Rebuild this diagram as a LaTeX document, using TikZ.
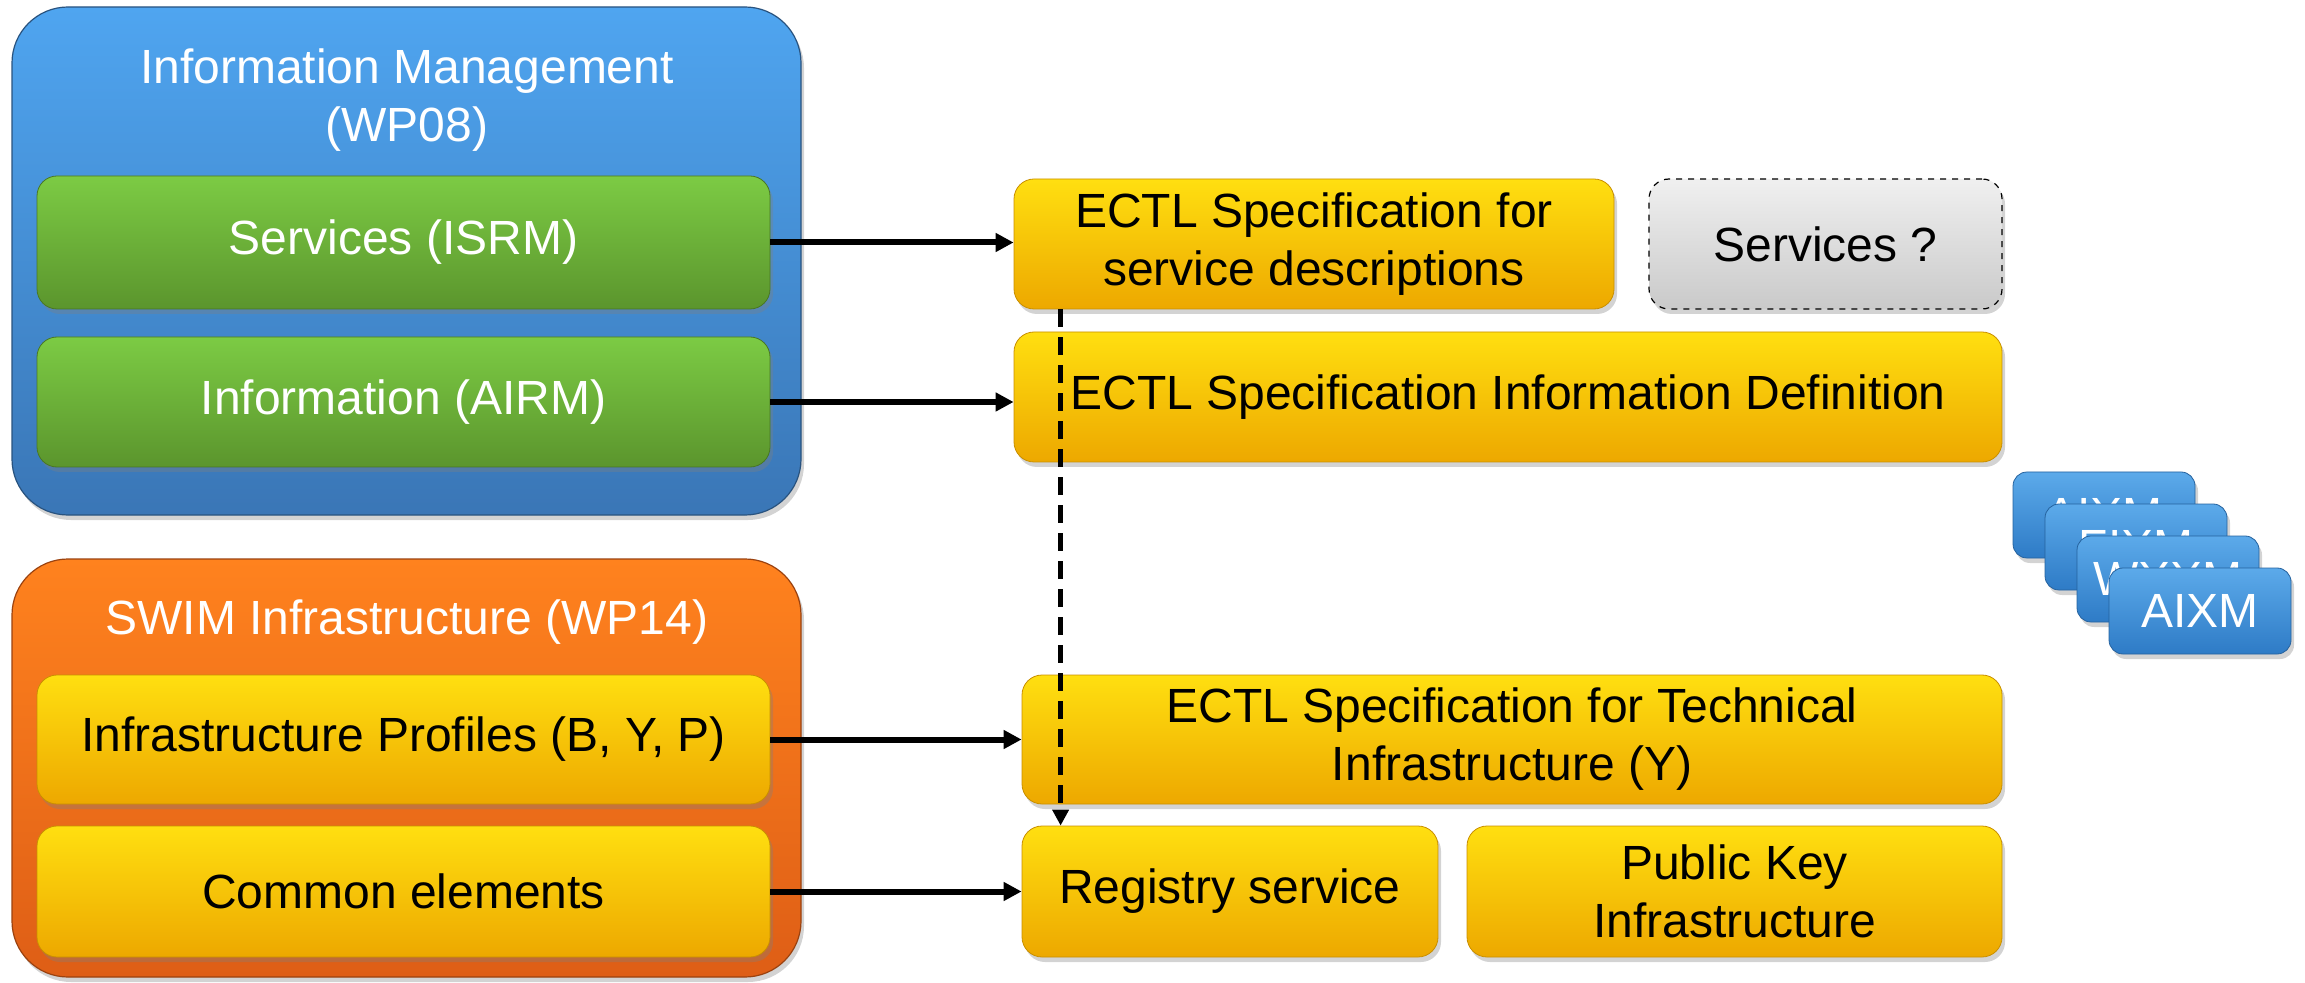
\documentclass[tikz,border=0pt]{standalone}
\usepackage{fontspec}
\setmainfont{Liberation Sans}
\usetikzlibrary{arrows.meta,shadows}

\definecolor{imtop}{HTML}{4FA5F0}
\definecolor{imbot}{HTML}{3A76B6}
\definecolor{swtop}{HTML}{FF821E}
\definecolor{swbot}{HTML}{DE5E16}
\definecolor{grtop}{HTML}{7CCB44}
\definecolor{grbot}{HTML}{5B952D}
\definecolor{yetop}{HTML}{FFDF10}
\definecolor{yebot}{HTML}{EDA800}
\definecolor{xmtop}{HTML}{5CAAEA}
\definecolor{xmbot}{HTML}{2E7BC6}

\begin{document}
\begin{tikzpicture}
[x=0.5pt,y=-0.5pt,
	font=\fontsize{24}{29}\selectfont,
	box/.style={rounded corners=10pt,inner sep=0pt,align=center,
		drop shadow={shadow xshift=1.5pt,shadow yshift=-2.5pt,opacity=0.35}},
	group/.style={box,rounded corners=28pt,draw=#1!70!black,line width=0.6pt},
	greenbox/.style={box,top color=grtop,bottom color=grbot,draw=grbot!80!black,line width=0.4pt,text=white},
	yellowbox/.style={box,top color=yetop,bottom color=yebot,draw=yebot!85!black,line width=0.4pt},
	xmbox/.style={box,rounded corners=7pt,minimum width=91pt,minimum height=43pt,
		top color=xmtop,bottom color=xmbot,draw=xmbot!80!black,line width=0.4pt,text=white},
	link/.style={line width=3pt,-{Triangle[length=9pt,width=9pt]}},
	dashlink/.style={line width=2.6pt,dash pattern=on 9pt off 5pt,-{Triangle[length=8pt,width=8pt]}}]
\useasboundingbox (0,0) rectangle (2305,983);

% left side
\node[group=imbot,top color=imtop,bottom color=imbot,minimum width=394.5pt,minimum height=254pt] (im) at (406.5,261) {};
\node[text=white,align=center] (imtitle) at (407,100) {Information Management\\(WP08)};
\node[greenbox,minimum width=366.5pt,minimum height=66.5pt] (srv) at (403.5,242.5) {Services (ISRM)};
\node[greenbox,minimum width=366.5pt,minimum height=65pt] (inf) at (403.5,402) {Information (AIRM)};

\node[group=swbot,top color=swtop,bottom color=swbot,minimum width=394.5pt,minimum height=209pt] (swim) at (406.5,768) {};
\node[text=white] (swimtitle) at (407,622) {SWIM Infrastructure (WP14)};
\node[yellowbox,minimum width=366.5pt,minimum height=64.5pt] (prof) at (403.5,739.5) {Infrastructure Profiles (B, Y, P)};
\node[yellowbox,minimum width=366.5pt,minimum height=65.5pt] (com) at (403.5,891.5) {Common elements};

% right side
\node[yellowbox,minimum width=300pt,minimum height=65pt] (svc) at (1314,244) {ECTL Specification for\\service descriptions};
\node[box,top color=gray!12,bottom color=gray!42,draw=black,dashed,line width=0.6pt,
	minimum width=176.5pt,minimum height=65pt] (srvq) at (1825.5,244) {Services ?};
\node[yellowbox,minimum width=494pt,minimum height=65pt] (idef) at (1508,397) {ECTL Specification Information Definition};
\node[yellowbox,minimum width=490pt,minimum height=64.5pt] (tech) at (1512,739.5) {ECTL Specification for Technical\\Infrastructure (Y)};
\node[yellowbox,minimum width=208pt,minimum height=65.5pt] (reg) at (1230,891.5) {Registry service};
\node[yellowbox,minimum width=267.5pt,minimum height=65.5pt] (pki) at (1734.5,891.5) {Public Key\\Infrastructure};

% exchange models
\node[xmbox] (xm1) at (2104,515) {AIXM};
\node[xmbox] (xm2) at (2136,547) {FIXM};
\node[xmbox] (xm3) at (2168,579) {WXXM};
\node[xmbox] (xm4) at (2200,611) {AIXM};

% connectors
\draw[link] (srv.east) -- (srv.east -| svc.west);
\draw[link] (inf.east) -- (inf.east -| idef.west);
\draw[link] (prof.east) -- (prof.east -| tech.west);
\draw[link] (com.east) -- (com.east -| reg.west);
\coordinate (dtop) at ([xshift=23.5pt]svc.south west);
\draw[dashlink] (dtop) -- (dtop |- reg.north);
\end{tikzpicture}
\end{document}
